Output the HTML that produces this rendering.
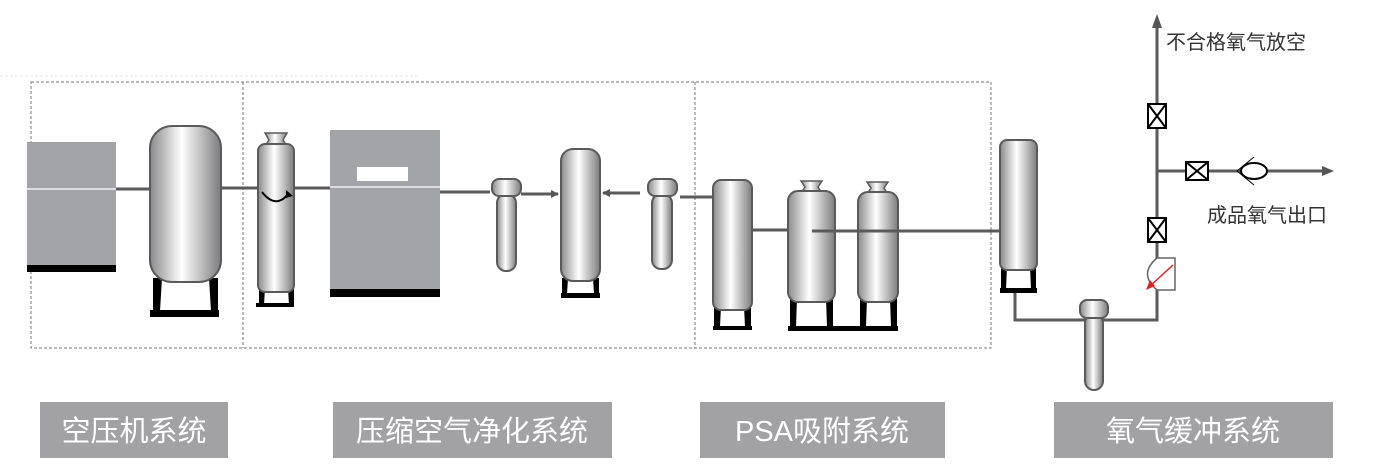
<!DOCTYPE html>
<html><head><meta charset="utf-8"><style>
body{margin:0;background:#fff;}
svg{display:block;}
.lbl{font-family:"Liberation Sans","Noto Sans CJK SC",sans-serif;}
</style></head><body>
<svg width="1374" height="470" viewBox="0 0 1374 470" xmlns="http://www.w3.org/2000/svg">
<defs>
<linearGradient id="g" x1="0" x2="1" y1="0" y2="0">
<stop offset="0" stop-color="#8a8a8c"/><stop offset="0.45" stop-color="#ffffff"/><stop offset="1" stop-color="#7c7c7e"/>
</linearGradient>
<marker id="ah" markerWidth="8" markerHeight="8" refX="7" refY="4" orient="auto" markerUnits="userSpaceOnUse">
<path d="M0,0 L8,4 L0,8 z" fill="#555"/></marker>
</defs>
<line x1="0" y1="76" x2="420" y2="76" stroke="#e6e6e6" stroke-dasharray="3,2"/>
<rect x="31" y="82" width="960" height="266" fill="none" stroke="#777" stroke-dasharray="3,2"/>
<line x1="243" y1="82" x2="243" y2="348" stroke="#777" stroke-dasharray="3,2"/>
<line x1="695" y1="82" x2="695" y2="348" stroke="#777" stroke-dasharray="3,2"/>
<g stroke="#5a5a5a" stroke-width="3" fill="none">
<line x1="116" y1="189" x2="150" y2="189"/>
<line x1="221" y1="188" x2="258" y2="188"/>
<line x1="294" y1="188" x2="330" y2="188"/>
<line x1="440" y1="192" x2="490" y2="192"/>
<line x1="680" y1="197" x2="713" y2="197"/>
<line x1="752" y1="230" x2="788" y2="230"/>
<polyline points="1015,292 1015,320 1157,320 1157,22"/>
<line x1="1157" y1="171" x2="1325" y2="171"/>
</g>
<line x1="521" y1="194" x2="558" y2="194" stroke="#5a5a5a" stroke-width="3" marker-end="url(#ah)"/>
<line x1="640" y1="193" x2="603" y2="193" stroke="#5a5a5a" stroke-width="3" marker-end="url(#ah)"/>
<path d="M1152,28 L1157,14 L1162,28 z" fill="#555"/>
<path d="M1322,166 L1334,171 L1322,176 z" fill="#555"/>
<!-- compressor -->
<rect x="27" y="142" width="89" height="123" fill="#a3a4a7"/>
<line x1="27" y1="189" x2="116" y2="189" stroke="#ddd" stroke-width="2"/>
<rect x="27" y="265" width="89" height="7" fill="#000"/>
<!-- tank1 -->
<path d="M153,278 L162,278 L160,311 L153,311 z M209,278 L218,278 L218,311 L211,311 z" fill="#000"/>
<rect x="150" y="310" width="69" height="7" fill="#000"/>
<rect x="150" y="126" width="71" height="156" rx="22" fill="url(#g)" stroke="#5a5a5a" stroke-width="2"/>
<!-- dryer column -->
<path d="M259,288 L265,288 L264,305 L259,305 z M288,288 L294,288 L294,305 L289,305 z" fill="#000"/>
<rect x="256" y="303" width="38" height="4" fill="#000"/>
<path d="M265,133 L287,133 L283,140 L287,146 L265,146 L269,140 z" fill="url(#g)" stroke="#5a5a5a" stroke-width="1.5"/>
<rect x="258" y="144" width="36" height="148" rx="7" fill="url(#g)" stroke="#5a5a5a" stroke-width="2"/>
<path d="M262,192 Q276,210 289,193" stroke="#000" stroke-width="2" fill="none"/>
<path d="M286,190 L293,196 L286,198 z" fill="#000"/>
<!-- box2 -->
<rect x="330" y="130" width="110" height="159" fill="#a3a4a7"/>
<line x1="330" y1="187" x2="440" y2="187" stroke="#ddd" stroke-width="2"/>
<rect x="357" y="167" width="51" height="14" fill="#fff"/>
<rect x="330" y="289" width="110" height="8" fill="#000"/>
<!-- filter1 -->
<rect x="497" y="194" width="19" height="77" rx="9" fill="url(#g)" stroke="#5a5a5a" stroke-width="2"/>
<rect x="492" y="179" width="29" height="17" rx="7" fill="url(#g)" stroke="#5a5a5a" stroke-width="2"/>
<!-- tank2 -->
<path d="M562,278 L568,278 L567,294 L562,294 z M593,278 L599,278 L599,294 L594,294 z" fill="#000"/>
<rect x="561" y="293" width="39" height="5" fill="#000"/>
<rect x="561" y="149" width="39" height="132" rx="12" fill="url(#g)" stroke="#5a5a5a" stroke-width="2"/>
<!-- filter2 -->
<rect x="652" y="194" width="20" height="75" rx="9" fill="url(#g)" stroke="#5a5a5a" stroke-width="2"/>
<rect x="648" y="179" width="29" height="17" rx="7" fill="url(#g)" stroke="#5a5a5a" stroke-width="2"/>
<!-- PSA -->
<path d="M714,306 L721,306 L720,327 L714,327 z M744,306 L751,306 L751,327 L745,327 z" fill="#000"/>
<rect x="713" y="326" width="39" height="4" fill="#000"/>
<rect x="713" y="180" width="39" height="130" rx="8" fill="url(#g)" stroke="#5a5a5a" stroke-width="2"/>
<path d="M790,298 L797,298 L796,327 L790,327 z M826,298 L833,298 L833,327 L827,327 z M860,298 L867,298 L866,327 L860,327 z M890,298 L897,298 L897,327 L891,327 z" fill="#000"/>
<rect x="788" y="326" width="110" height="5" fill="#000"/>
<path d="M801,181 L822,181 L818,187 L822,193 L801,193 L805,187 z" fill="url(#g)" stroke="#5a5a5a" stroke-width="1.5"/>
<rect x="788" y="191" width="47" height="111" rx="10" fill="url(#g)" stroke="#5a5a5a" stroke-width="2"/>
<path d="M867,182 L888,182 L884,188 L888,194 L867,194 L871,188 z" fill="url(#g)" stroke="#5a5a5a" stroke-width="1.5"/>
<rect x="858" y="192" width="40" height="110" rx="10" fill="url(#g)" stroke="#5a5a5a" stroke-width="2"/>
<line x1="812" y1="231" x2="1000" y2="231" stroke="#5a5a5a" stroke-width="3"/>
<!-- buffer tank -->
<path d="M1001,266 L1007,266 L1006,289 L1001,289 z M1030,266 L1036,266 L1036,289 L1031,289 z" fill="#000"/>
<rect x="1000" y="288" width="37" height="5" fill="#000"/>
<rect x="1000" y="140" width="37" height="130" rx="7" fill="url(#g)" stroke="#5a5a5a" stroke-width="2"/>
<!-- filter3 -->
<rect x="1085" y="314" width="18" height="76" rx="9" fill="url(#g)" stroke="#5a5a5a" stroke-width="2"/>
<rect x="1080" y="300" width="28" height="18" rx="7" fill="url(#g)" stroke="#5a5a5a" stroke-width="2"/>
<!-- valves -->
<g stroke="#000" stroke-width="2" fill="#fff">
<rect x="1148" y="104" width="18" height="24"/>
<path d="M1148,104 L1166,128 M1166,104 L1148,128"/>
<rect x="1148" y="218" width="18" height="24"/>
<path d="M1148,218 L1166,242 M1166,218 L1148,242"/>
<rect x="1186" y="162" width="22" height="18"/>
<path d="M1186,162 L1208,180 M1208,162 L1186,180"/>
<ellipse cx="1254" cy="171" rx="13" ry="8"/>
</g>
<path d="M1254,157 L1237,171 L1254,185" stroke="#000" stroke-width="1" fill="none"/>
<path d="M1157,258 L1175,258 L1175,290 L1157,290 Q1138,274 1157,258 z" fill="#fff" stroke="#666" stroke-width="1.5"/>
<line x1="1173" y1="265" x2="1150" y2="286" stroke="#e02020" stroke-width="1.5"/>
<path d="M1146,290 L1150,280 L1155,286 z" fill="#e02020"/>
<!-- texts -->
<text x="1166" y="49" class="lbl" font-size="20" fill="#333">不合格氧气放空</text>
<text x="1207" y="222" class="lbl" font-size="20" fill="#333">成品氧气出口</text>
<rect x="40" y="402" width="188" height="56" fill="#a2a2a5"/>
<text x="134" y="441" class="lbl" font-size="29" fill="#fff" text-anchor="middle">空压机系统</text>
<rect x="333" y="402" width="279" height="56" fill="#a2a2a5"/>
<text x="472" y="441" class="lbl" font-size="29" fill="#fff" text-anchor="middle">压缩空气净化系统</text>
<rect x="700" y="402" width="245" height="56" fill="#a2a2a5"/>
<text x="822" y="441" class="lbl" font-size="29" fill="#fff" text-anchor="middle">PSA吸附系统</text>
<rect x="1054" y="402" width="279" height="56" fill="#a2a2a5"/>
<text x="1193" y="441" class="lbl" font-size="29" fill="#fff" text-anchor="middle">氧气缓冲系统</text>
</svg>
</body></html>
